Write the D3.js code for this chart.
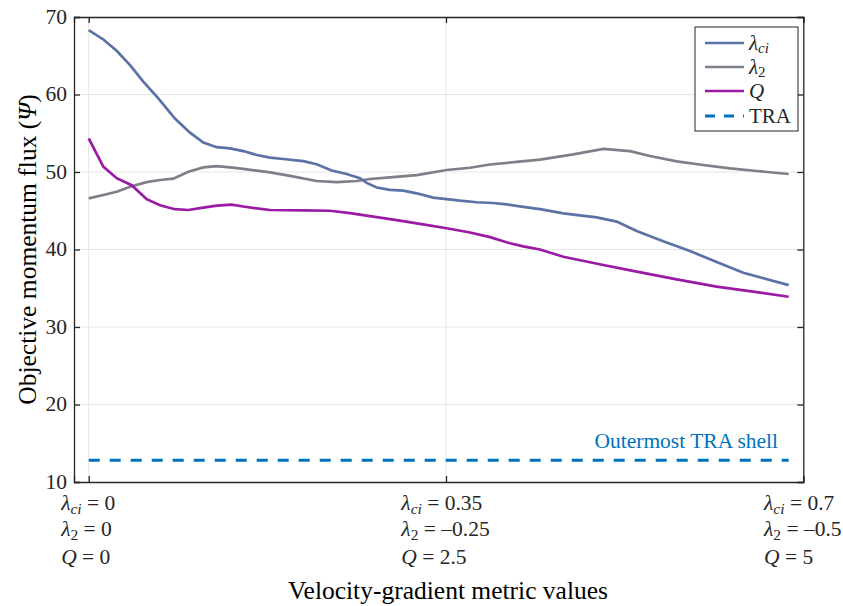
<!DOCTYPE html>
<html>
<head>
<meta charset="utf-8">
<script src="https://cdn.jsdelivr.net/npm/d3@7/dist/d3.min.js"></script>
<style>
  body { margin: 0; background: #fff; }
  svg, svg text { font-family: 'Liberation Serif', 'Times New Roman', Times, 'DejaVu Serif', serif !important; }
</style>
</head>
<body>
<svg id="chart" width="843" height="606"></svg>
<script>
// ---- data (x in λci units; values in Ψ) ----
const lciX = [0,0.0143,0.0274,0.0405,0.0535,0.0682,0.0845,0.0992,0.1123,0.1254,0.1384,0.1514,0.1646,0.1776,0.1906,0.2102,0.2233,0.2380,0.2527,0.2657,0.2723,0.2821,0.2951,0.3082,0.3213,0.3375,0.3507,0.3637,0.3801,0.3963,0.4094,0.4257,0.4421,0.4649,0.4976,0.5172,0.5368,0.5628,0.5890,0.6151,0.6412,0.6857];
const lciY = [68.3,67.1,65.65,63.8,61.65,59.5,56.9,55.07,53.8,53.2,53.05,52.7,52.2,51.85,51.68,51.4,51.0,50.2,49.74,49.2,48.6,48.0,47.7,47.6,47.25,46.7,46.5,46.3,46.1,46.0,45.83,45.5,45.2,44.67,44.15,43.6,42.4,41.06,39.8,38.4,37.0,35.4];

const l2X = [0,0.0143,0.0274,0.0405,0.0568,0.0698,0.0829,0.0976,0.1123,0.1254,0.1384,0.1514,0.1646,0.1776,0.1972,0.2233,0.2429,0.2625,0.2755,0.2951,0.3213,0.3507,0.3735,0.3931,0.4192,0.4421,0.4747,0.5041,0.5302,0.5498,0.5760,0.6020,0.6282,0.6543,0.6857];
const l2Y = [46.6,47.03,47.46,48.1,48.7,48.97,49.14,50.04,50.6,50.77,50.6,50.4,50.17,49.95,49.5,48.84,48.7,48.84,49.1,49.3,49.6,50.26,50.55,50.97,51.3,51.6,52.28,52.97,52.7,52.06,51.37,50.9,50.47,50.13,49.74];

const qX = [0,0.0143,0.0274,0.0421,0.0568,0.0698,0.0845,0.0976,0.1123,0.1254,0.1401,0.1514,0.1646,0.1776,0.2102,0.2364,0.2560,0.2755,0.3017,0.3245,0.3507,0.3735,0.3931,0.4127,0.4257,0.4421,0.4649,0.5041,0.5368,0.5760,0.6151,0.6543,0.6857];
const qY = [54.35,50.7,49.2,48.3,46.5,45.7,45.2,45.1,45.4,45.65,45.8,45.55,45.3,45.1,45.05,45.0,44.7,44.3,43.8,43.3,42.74,42.2,41.6,40.8,40.4,40.0,39.07,38.0,37.14,36.15,35.2,34.5,33.9];

const traX = [0, 0.6857];
const traY = [12.8, 12.8];

const yTicks = [10, 20, 30, 40, 50, 60, 70];
const xTicks = [0, 0.35, 0.7];
const xTickLci = ["0", "0.35", "0.7"];
const xTickL2 = ["0", "\u20130.25", "\u20130.5"];
const xTickQ = ["0", "2.5", "5"];

const seriesNames = ["ci", "2", "Q", "TRA"];

// ---- layout ----
const FONT = "'Liberation Serif', 'Times New Roman', Times, 'DejaVu Serif', serif";
const svg = d3.select("#chart").attr("font-family", FONT);
const L = 74, R = 803.3, T = 17, B = 482;
const x = d3.scaleLinear().domain([-0.0144, 0.7]).range([L, R]);
const y = d3.scaleLinear().domain([10, 70]).range([B, T]);
const axisColor = "#262626";
const gridColor = "#e6e6e6";
const TICKFS = 21.5, SUBFS = 15.5;

// grid
svg.append("g").selectAll("line.gy").data(yTicks.slice(1, -1)).join("line")
  .attr("x1", L).attr("x2", R).attr("y1", d => y(d)).attr("y2", d => y(d))
  .attr("stroke", gridColor).attr("stroke-width", 1);
svg.append("g").selectAll("line.gx").data(xTicks).join("line")
  .attr("x1", d => x(d)).attr("x2", d => x(d)).attr("y1", T).attr("y2", B)
  .attr("stroke", gridColor).attr("stroke-width", 1);

// lines
const line = d3.line().x(d => x(d[0])).y(d => y(d[1]));
const zip = (a, b) => a.map((v, i) => [v, b[i]]);
const colors = { lci: "#5a72a6", l2: "#7f7f89", q: "#9a1aa3", tra: "#0072bd" };

svg.append("path").datum(zip(traX, traY)).attr("d", line).attr("fill", "none")
  .attr("stroke", colors.tra).attr("stroke-width", 3).attr("stroke-dasharray", "11,10");
svg.append("path").datum(zip(l2X, l2Y)).attr("d", line).attr("fill", "none")
  .attr("stroke", colors.l2).attr("stroke-width", 2.7);
svg.append("path").datum(zip(lciX, lciY)).attr("d", line).attr("fill", "none")
  .attr("stroke", colors.lci).attr("stroke-width", 2.7);
svg.append("path").datum(zip(qX, qY)).attr("d", line).attr("fill", "none")
  .attr("stroke", colors.q).attr("stroke-width", 2.7);

svg.append("text").attr("x", 778).attr("y", 448).attr("text-anchor", "end")
  .attr("font-size", TICKFS).attr("fill", colors.tra).text("Outermost TRA shell");

// axes box
const axL = svg.append("g").attr("transform", `translate(${L},0)`)
  .call(d3.axisLeft(y).tickValues(yTicks).tickSize(-6).tickPadding(7).tickFormat(d3.format("d")));
const axR = svg.append("g").attr("transform", `translate(${R},0)`)
  .call(d3.axisRight(y).tickValues(yTicks).tickSize(-6).tickFormat(""));
const axB = svg.append("g").attr("transform", `translate(0,${B})`)
  .call(d3.axisBottom(x).tickValues(xTicks).tickSize(-6).tickFormat(""));
const axT = svg.append("g").attr("transform", `translate(0,${T})`)
  .call(d3.axisTop(x).tickValues(xTicks).tickSize(-6).tickFormat(""));
[axL, axR, axB, axT].forEach(g => {
  g.attr("font-family", FONT);
  g.select(".domain").attr("stroke", axisColor).attr("stroke-width", 1.3);
  g.selectAll(".tick line").attr("stroke", axisColor).attr("stroke-width", 1.3);
});
axL.selectAll(".tick text").attr("font-size", TICKFS).attr("fill", axisColor)
  .attr("dy", "0.3em");

// x tick labels (three lines, left aligned block centred on tick)
xTicks.forEach((t, i) => {
  const g = svg.append("g");
  const l1 = g.append("text").attr("y", 510).attr("font-size", TICKFS).attr("fill", axisColor);
  l1.append("tspan").attr("font-style", "italic").text("\u03bb");
  l1.append("tspan").attr("font-style", "italic").attr("font-size", SUBFS).attr("dy", 4).text("ci");
  l1.append("tspan").attr("dy", -4).text(" = " + xTickLci[i]);
  const l2 = g.append("text").attr("y", 536).attr("font-size", TICKFS).attr("fill", axisColor);
  l2.append("tspan").attr("font-style", "italic").text("\u03bb");
  l2.append("tspan").attr("font-size", SUBFS).attr("dy", 4).text("2");
  l2.append("tspan").attr("dy", -4).text(" = " + xTickL2[i]);
  const l3 = g.append("text").attr("y", 564).attr("font-size", TICKFS).attr("fill", axisColor);
  l3.append("tspan").attr("font-style", "italic").text("Q");
  l3.append("tspan").text(" = " + xTickQ[i]);
  const w = g.node().getBBox().width;
  g.attr("transform", `translate(${x(t) - w / 2},0)`);
});

// axis titles
svg.append("text").attr("x", 448).attr("y", 599).attr("text-anchor", "middle")
  .attr("font-size", 25.5).attr("fill", "#000").text("Velocity-gradient metric values");
const yt = svg.append("text").attr("transform", `translate(36,${(T + B) / 2}) rotate(-90)`)
  .attr("text-anchor", "middle").attr("font-size", 25.5).attr("fill", "#000");
yt.append("tspan").text("Objective momentum flux (");
yt.append("tspan").attr("font-style", "italic").text("\u03a8");
yt.append("tspan").text(")");

// legend
const lg = svg.append("g");
lg.append("rect").attr("x", 695).attr("y", 27).attr("width", 103).attr("height", 104)
  .attr("fill", "#fff").attr("stroke", "#262626").attr("stroke-width", 1);
const legY = [43, 67, 91, 116];
const legCol = [colors.lci, colors.l2, colors.q, colors.tra];
legY.forEach((ly, i) => {
  lg.append("line").attr("x1", 705).attr("x2", 744).attr("y1", ly).attr("y2", ly)
    .attr("stroke", legCol[i]).attr("stroke-width", i === 3 ? 3 : 2.7)
    .attr("stroke-dasharray", i === 3 ? "10,9" : null);
  const tx = lg.append("text").attr("x", 749).attr("y", ly + 7).attr("font-size", 21).attr("fill", "#262626");
  if (i === 0) {
    tx.append("tspan").attr("font-style", "italic").text("\u03bb");
    tx.append("tspan").attr("font-style", "italic").attr("font-size", 15).attr("dy", 3).text(seriesNames[0]);
  } else if (i === 1) {
    tx.append("tspan").attr("font-style", "italic").text("\u03bb");
    tx.append("tspan").attr("font-size", 15).attr("dy", 3).text(seriesNames[1]);
  } else if (i === 2) {
    tx.append("tspan").attr("font-style", "italic").text(seriesNames[2]);
  } else {
    tx.text(seriesNames[3]);
  }
});
</script>
</body>
</html>
